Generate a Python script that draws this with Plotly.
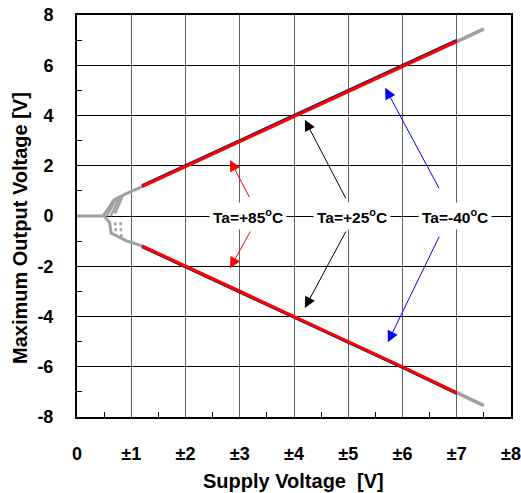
import plotly.graph_objects as go

# ---- data ----
supply_main = [1.2, 2, 3, 4, 5, 6, 7]
out_pos_m40 = [1.21, 2.01, 3.01, 4.01, 5.01, 6.0, 6.99]
out_pos_25 = [1.19, 1.99, 2.99, 3.99, 4.99, 5.98, 6.97]
out_pos_85 = [1.17, 1.97, 2.97, 3.97, 4.97, 5.96, 6.94]
out_neg_m40 = [-1.22, -2.02, -3.02, -4.02, -5.02, -6.03, -7.06]
out_neg_25 = [-1.21, -2.01, -3.01, -4.01, -5.01, -6.02, -7.05]
out_neg_85 = [-1.19, -1.99, -2.99, -3.99, -4.99, -6.0, -7.03]

tail_x = [7.0, 7.5]
tail_pos = [6.94, 7.45]
tail_neg = [-7.03, -7.55]

# low-voltage start-up region (gray)
start_pos_x = [0, 0.48, 0.58, 0.68, 0.9, 1.2]
start_pos_y = [0, 0, 0.3, 0.64, 0.88, 1.17]
start_neg_x = [0.5, 0.6, 0.63, 0.9, 1.2]
start_neg_y = [0, -0.25, -0.68, -0.98, -1.19]
inner_pos = [([0.55, 0.72], [0.0, 0.68]), ([0.62, 0.79], [0.0, 0.76]), ([0.7, 0.85], [0.1, 0.84])]
inner_neg = [([0.7, 0.72], [-0.25, -0.75]), ([0.8, 0.82], [-0.25, -0.85])]

x_ticks = [0, 1, 2, 3, 4, 5, 6, 7, 8]
x_labels = ["0", "±1", "±2", "±3", "±4", "±5", "±6", "±7", "±8"]
y_ticks = [-8, -6, -4, -2, 0, 2, 4, 6, 8]

labels = ["Ta=+85<sup>o</sup>C", "Ta=+25<sup>o</sup>C", "Ta=-40<sup>o</sup>C"]
label_x = [3.15, 5.06, 6.97]
label_colors = ["red", "black", "blue"]
arrow_tails = [[(3.19, 0.7), (3.21, -0.56)], [(4.97, 0.64), (4.97, -0.56)], [(6.69, 1.04), (6.69, -0.76)]]
arrow_heads = [[(2.82, 2.23), (2.82, -2.08)], [(4.2, 3.83), (4.2, -3.66)], [(5.68, 5.1), (5.73, -5.02)]]

GRAY = "#a0a0a0"
FONT = "Arial, Liberation Sans, sans-serif"

fig = go.Figure()

def add(x, y, color, width, dash="solid"):
    fig.add_trace(go.Scatter(x=x, y=y, mode="lines",
                             line=dict(color=color, width=width, dash=dash),
                             hoverinfo="skip", showlegend=False))

# gray start-up curves
add(start_pos_x, start_pos_y, GRAY, 3)
add(start_neg_x, start_neg_y, GRAY, 3)
for xs, ys in inner_pos:
    add(xs, ys, GRAY, 2.5)
for xs, ys in inner_neg:
    add(xs, ys, GRAY, 2.5, "dot")
# gray tails
add(tail_x, tail_pos, GRAY, 3.5)
add(tail_x, tail_neg, GRAY, 3.5)
# main lines
add(supply_main, out_pos_m40, "#2020a0", 3)
add(supply_main, out_pos_25, "#303030", 3)
add(supply_main, out_pos_85, "red", 3)
add(supply_main, out_neg_m40, "#2020a0", 3)
add(supply_main, out_neg_25, "#303030", 3)
add(supply_main, out_neg_85, "red", 3)

annotations = []
for i in range(3):
    for (tx, ty), (hx, hy) in zip(arrow_tails[i], arrow_heads[i]):
        annotations.append(dict(x=hx, y=hy, ax=tx, ay=ty, xref="x", yref="y",
                                axref="x", ayref="y", text="", showarrow=True,
                                arrowhead=2, arrowsize=2.2, arrowwidth=1,
                                arrowcolor=label_colors[i]))
    annotations.append(dict(x=label_x[i], y=0, xref="x", yref="y", text="<b>%s</b>" % labels[i],
                            showarrow=False, bgcolor="white",
                            font=dict(family=FONT, size=15.5, color="black"), borderpad=3))

# axis titles
annotations.append(dict(x=(293 - 77) / 434, y=(417 - 481) / 402, xref="paper", yref="paper",
                        text="<b>Supply Voltage\u00a0 [V]</b>", showarrow=False,
                        xanchor="center", yanchor="middle",
                        font=dict(family=FONT, size=20, color="black")))
annotations.append(dict(x=(20 - 77) / 434, y=(417 - 228) / 402, xref="paper", yref="paper",
                        text="<b>Maximum Output Voltage [V]</b>", showarrow=False, textangle=-90,
                        xanchor="center", yanchor="middle",
                        font=dict(family=FONT, size=20, color="black")))

fig.update_layout(
    width=521, height=493,
    margin=dict(l=77, r=10, t=15, b=76),
    paper_bgcolor="white", plot_bgcolor="white",
    annotations=annotations,
    font=dict(family=FONT, color="black"),
)
fig.update_xaxes(
    range=[0, 8], tickvals=x_ticks, ticktext=["<b>%s</b>" % t for t in x_labels],
    tickfont=dict(family=FONT, size=18), ticks="", ticklabelstandoff=19, automargin=False,
    showgrid=True, gridcolor="#606060", gridwidth=1,
    showline=True, linecolor="black", linewidth=2, mirror=True, zeroline=False,
    minor=dict(tickvals=[0.5, 1.5, 2.5, 3.5, 4.5, 5.5, 6.5, 7.5], ticks="inside", ticklen=5,
               tickcolor="black", showgrid=False),
)
fig.update_yaxes(
    range=[-8, 8], tickvals=y_ticks, ticktext=["<b>%d</b>" % v for v in y_ticks],
    tickfont=dict(family=FONT, size=18), ticks="", ticklabelstandoff=18, automargin=False,
    showgrid=True, gridcolor="black", gridwidth=1,
    showline=True, linecolor="black", linewidth=2, mirror=True, zeroline=False,
    minor=dict(tickvals=[-7, -5, -3, -1, 1, 3, 5, 7], ticks="inside", ticklen=5,
               tickcolor="black", showgrid=False),
)

fig.write_html("out.html", config={"displayModeBar": False},
               post_script="document.body.style.margin='0';document.body.style.overflow='hidden';")
